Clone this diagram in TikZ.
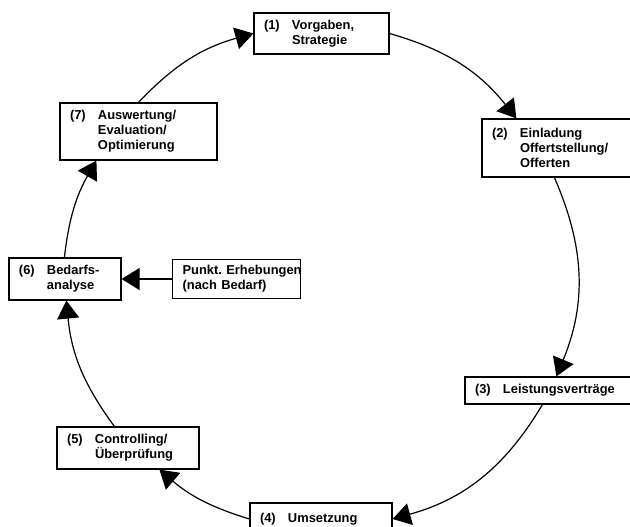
\documentclass[tikz,border=0pt]{standalone}
\usepackage{fontspec}
\setmainfont{Liberation Sans}
\usetikzlibrary{arrows.meta}

\newcommand{\nr}[1]{\makebox[28pt][l]{(#1)}}
\newcommand{\ind}{\hspace*{28pt}}

\begin{document}
\begin{tikzpicture}[x=1pt,y=1pt,>={Triangle[length=18pt,width=22pt]},line width=1.2pt,
                    stage node/.style={draw,rectangle,align=left,inner xsep=10pt,inner ysep=0pt,
                      font=\fontsize{12.9}{15}\selectfont\bfseries},
                    note node/.style={stage node,anchor=west}]

  \clip (0,0) rectangle (630,527);

  \node[stage node,text width=115pt,minimum height=41pt] (1) at (321.5,493.5) {\nr{1}Vorgaben,\\\ind Strategie};
  \node[stage node,text width=138pt,minimum height=58pt] (2) at (561,379) {\nr{2}Einladung\\\ind Offertstellung/\\\ind Offerten};
  \node[stage node,text width=155pt,minimum height=27pt] (3) at (552.5,136.5) {\nr{3}Leistungsverträge};
  \node[stage node,text width=122pt,minimum height=32pt] (4) at (321,8) {\nr{4}Umsetzung};
  \node[stage node,text width=122pt,minimum height=42pt] (5) at (128,79) {\nr{5}Controlling/\\\ind Überprüfung};
  \node[stage node,text width=92pt,minimum height=42pt] (6) at (65,248) {\nr{6}Bedarfs-\\\ind analyse};
  \node[stage node,text width=137pt,minimum height=57pt] (7) at (138.5,395.5) {\nr{7}Auswertung/\\\ind Evaluation/\\\ind Optimierung};
  \node[note node,text width=108pt,minimum height=39pt] (e) at (172,248) {\mbox{Punkt.~Erhebungen}\\\mbox{(nach Bedarf)}};

  \path[->]
    (7.north) edge [bend left=15.5] (1.west)
    (1.east) edge [bend left=17.7] ([xshift=35pt]2.north west)
    ([xshift=73pt]2.south west) edge [bend left=23] ([xshift=92pt]3.north west)
    ([xshift=78pt]3.south west) edge [bend left=21.9] (4.east)
    (4.west) edge [bend left=11.8] ([xshift=103pt]5.south west)
    ([xshift=58pt]5.north west) edge [bend left=15.5] ([xshift=58pt]6.south west)
    ([xshift=56pt]6.north west) edge [bend left=11.7] ([xshift=37pt]7.south west)
    (e) edge (6);

\end{tikzpicture}
\end{document}
